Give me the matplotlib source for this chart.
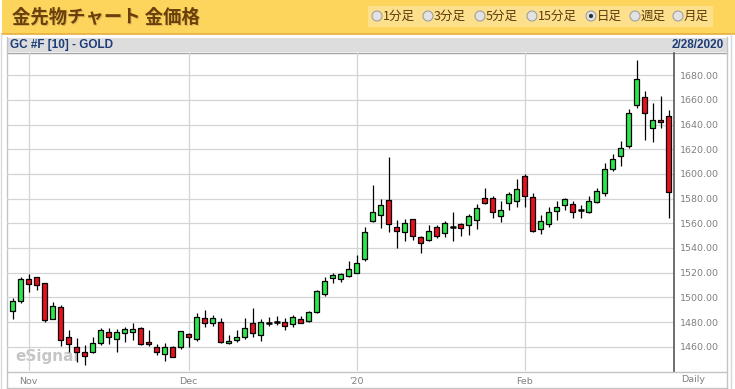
import matplotlib
matplotlib.use('Agg')
import matplotlib.pyplot as plt
from matplotlib.patches import Rectangle, Circle

# 金先物 日足 (2019/10/30 - 2020/02/28)
opens = [1489.2, 1497.3, 1514.6, 1516.3, 1511.4, 1482.7, 1491.9, 1468.1, 1459.5, 1455.5,
         1455.5, 1462.8, 1471.7, 1466.5, 1470.9, 1471.7, 1474.9, 1463.6, 1460.0, 1453.8,
         1460.0, 1460.0, 1470.1, 1466.6, 1482.9, 1479.0, 1480.4, 1462.8, 1465.2, 1467.5,
         1479.0, 1469.5, 1479.4, 1479.8, 1479.8, 1478.4, 1482.2, 1481.1, 1488.4, 1502.5,
         1515.5, 1514.6, 1517.3, 1520.0, 1530.9, 1561.7, 1566.5, 1578.7, 1557.3, 1552.8,
         1563.3, 1548.7, 1546.3, 1556.8, 1551.9, 1557.2, 1559.2, 1558.4, 1562.5, 1580.3,
         1580.3, 1565.7, 1576.3, 1577.7, 1598.4, 1581.6, 1555.2, 1559.5, 1570.0, 1574.9,
         1575.5, 1571.0, 1568.8, 1577.6, 1584.4, 1603.8, 1614.6, 1623.0, 1656.0, 1662.2,
         1637.1, 1643.6, 1647.0]
highs = [1499.2, 1516.3, 1518.7, 1516.8, 1511.6, 1496.2, 1493.6, 1473.5, 1467.1, 1461.4,
         1467.6, 1474.9, 1474.9, 1474.1, 1475.7, 1479.0, 1475.7, 1473.5, 1462.2, 1462.8,
         1460.6, 1473.0, 1471.4, 1487.3, 1489.8, 1485.5, 1483.3, 1469.5, 1473.5, 1483.4,
         1491.1, 1482.2, 1483.8, 1484.9, 1483.0, 1485.7, 1484.9, 1489.2, 1506.0, 1516.8,
         1520.0, 1519.5, 1529.5, 1534.4, 1556.8, 1591.1, 1579.5, 1614.1, 1562.7, 1563.8,
         1563.8, 1549.8, 1558.4, 1558.4, 1561.9, 1569.2, 1560.1, 1567.6, 1575.7, 1588.4,
         1581.9, 1577.9, 1585.2, 1596.0, 1599.6, 1584.4, 1566.5, 1573.0, 1578.4, 1580.3,
         1578.4, 1574.9, 1582.2, 1588.9, 1608.7, 1616.0, 1626.8, 1652.5, 1692.5, 1667.6,
         1657.3, 1663.3, 1651.9]
lows = [1482.5, 1495.7, 1504.6, 1506.0, 1480.3, 1482.5, 1460.6, 1455.7, 1447.8, 1445.2,
        1455.0, 1461.4, 1462.2, 1455.7, 1464.1, 1465.4, 1461.4, 1460.6, 1453.5, 1448.6,
        1451.4, 1458.4, 1459.4, 1464.6, 1476.2, 1476.8, 1462.8, 1462.5, 1463.4, 1466.6,
        1467.6, 1464.9, 1477.0, 1477.6, 1473.5, 1476.2, 1479.0, 1480.3, 1487.6, 1501.1,
        1511.9, 1512.7, 1516.8, 1519.5, 1529.7, 1561.3, 1556.5, 1553.2, 1540.3, 1545.9,
        1546.5, 1536.2, 1545.9, 1547.9, 1549.2, 1545.9, 1550.0, 1550.8, 1555.7, 1575.5,
        1564.6, 1561.4, 1571.1, 1573.3, 1572.9, 1552.8, 1551.1, 1557.3, 1562.7, 1570.8,
        1564.6, 1564.1, 1568.2, 1576.5, 1581.8, 1602.0, 1606.8, 1621.3, 1653.3, 1627.6,
        1626.2, 1637.1, 1564.1]
closes = [1497.1, 1514.6, 1510.6, 1509.8, 1481.6, 1492.8, 1465.4, 1462.0, 1455.5, 1452.2,
          1462.8, 1473.5, 1467.6, 1471.7, 1474.1, 1474.1, 1462.2, 1462.2, 1455.7, 1459.5,
          1451.9, 1472.5, 1467.6, 1483.8, 1479.0, 1482.9, 1463.6, 1464.5, 1467.6, 1474.9,
          1470.9, 1480.3, 1479.4, 1479.8, 1477.0, 1483.8, 1479.5, 1488.4, 1504.8, 1513.5,
          1517.9, 1518.7, 1522.8, 1527.6, 1552.8, 1569.0, 1574.6, 1559.2, 1553.6, 1560.1,
          1549.5, 1543.8, 1553.6, 1549.5, 1560.1, 1557.2, 1556.0, 1565.7, 1572.2, 1576.3,
          1569.0, 1570.6, 1583.6, 1587.6, 1581.8, 1554.1, 1562.2, 1569.5, 1573.5, 1579.5,
          1569.0, 1571.0, 1578.4, 1586.5, 1603.8, 1611.9, 1620.9, 1649.2, 1676.8, 1649.2,
          1643.8, 1641.9, 1585.2]

# 月初のローソク足の位置
month_pos = [2, 22, 43, 64]
month_labels = ['Nov', 'Dec', "'20", 'Feb']
price_ticks = list(range(1460, 1681, 20))
intervals = ['1分足', '3分足', '5分足', '15分足', '日足', '週足', '月足']
selected = '日足'

W, H = 735, 389
jp = ['Noto Sans CJK JP', 'DejaVu Sans']
fig = plt.figure(figsize=(W / 100, H / 100), dpi=100)
fig.patch.set_facecolor('white')

# 背景（ピクセル座標）
bg = fig.add_axes([0, 0, 1, 1])
bg.set_xlim(0, W)
bg.set_ylim(H, 0)
bg.axis('off')

bg.add_patch(Rectangle((2.5, 0), W - 2.5, 33.5, color='#FDD45C', lw=0))
bg.plot([2.5, W], [34, 34], color='#E5AE3A', lw=1.2)
bg.add_patch(Rectangle((368, 6), 345, 21, color='#FCE08C', lw=0))
# タイトル（影付き）
bg.text(13.5, 17.8, '金先物チャート 金価格', fontsize=13.2, fontweight='bold',
        color='#D9B25A', va='center', ha='left', family=jp)
bg.text(12.5, 17, '金先物チャート 金価格', fontsize=13.2, fontweight='bold',
        color='#6B4008', va='center', ha='left', family=jp)

radio_x = [377, 428, 480, 532, 591, 635, 678]
for rx, name in zip(radio_x, intervals):
    bg.add_patch(Circle((rx, 16), 5, facecolor='#E2E2E2', edgecolor='#A0A0A0', lw=0.8))
    if name == selected:
        bg.add_patch(Circle((rx, 16), 2.1, facecolor='#333333', lw=0))
    bg.text(rx + 6, 16.5, name, fontsize=9, color='#5C3A0E', va='center', ha='left',
            family=jp)

bg.add_patch(Rectangle((7, 37.5), 720, 14.5, color='#DDDDDD', lw=0))
bg.plot([7, 727], [52.5, 52.5], color='#A5A5A5', lw=1)
bg.text(10, 45, 'GC #F [10] - GOLD', fontsize=8.5, fontweight='bold', color='#1E3C78',
        va='center', ha='left', family=['Liberation Sans Narrow', 'Liberation Sans'])
bg.text(724, 45, '2/28/2020', fontsize=8.5, fontweight='bold', color='#1E3C78',
        va='center', ha='right', family=['Liberation Sans Narrow', 'Liberation Sans'])

# 枠線
bg.plot([7, 7], [37, 388], color='#C4C4C4', lw=1)
bg.plot([727, 727], [37, 388], color='#C4C4C4', lw=1)
bg.plot([7, 727], [387.5, 387.5], color='#C4C4C4', lw=1)
bg.plot([1.5, 1.5], [34, 389], color='#DADADA', lw=1)
bg.plot([731.5, 731.5], [34, 389], color='#D4D6E0', lw=1)
bg.plot([7, 727], [371.5, 371.5], color='#C4C4C4', lw=1)
bg.text(693, 380, 'Daily', fontsize=6.8, color='#808080', ha='center', va='center')
bg.text(15, 357, 'eSignal', fontsize=11, fontweight='bold', color='#C6C6C6',
        ha='left', va='center')

# チャート
ax = fig.add_axes([7 / W, 18 / H, 667 / W, 318 / H])
ax.set_facecolor('none')
n = len(closes)
xs = list(range(n))
ax.set_xlim(-0.71, 82.66)
ax.set_ylim(1440.3, 1698)

colors = []
for o, c in zip(opens, closes):
    if c > o:
        colors.append('#2BE84A')
    elif c < o:
        colors.append('#E8111E')
    else:
        colors.append('black')
bottoms = [min(o, c) for o, c in zip(opens, closes)]
heights = [abs(c - o) for o, c in zip(opens, closes)]

ax.vlines(xs, lows, highs, color='black', lw=0.9, zorder=2)
ax.bar(xs, heights, bottom=bottoms, width=0.66, color=colors, edgecolor='black',
       lw=0.9, zorder=3)
doji = [i for i in xs if opens[i] == closes[i]]
ax.hlines([closes[i] for i in doji], [i - 0.36 for i in doji], [i + 0.36 for i in doji],
          color='black', lw=1.8, zorder=3)

ax.set_yticks(price_ticks)
ax.set_yticklabels(['%.2f' % p for p in price_ticks])
ax.set_xticks(month_pos)
ax.set_xticklabels(month_labels)
ax.yaxis.tick_right()
ax.grid(color='#D4D4D4', lw=0.9)
ax.set_axisbelow(True)
ax.tick_params(axis='y', length=0, pad=4, labelsize=6.8, labelcolor='#808080')
ax.tick_params(axis='x', length=0, pad=4.5, labelsize=6.8, labelcolor='#808080')
for s in ['left', 'top', 'bottom']:
    ax.spines[s].set_visible(False)
ax.spines['right'].set_color('#555555')
ax.spines['right'].set_linewidth(1.2)

fig.savefig('out.png', dpi=100)
